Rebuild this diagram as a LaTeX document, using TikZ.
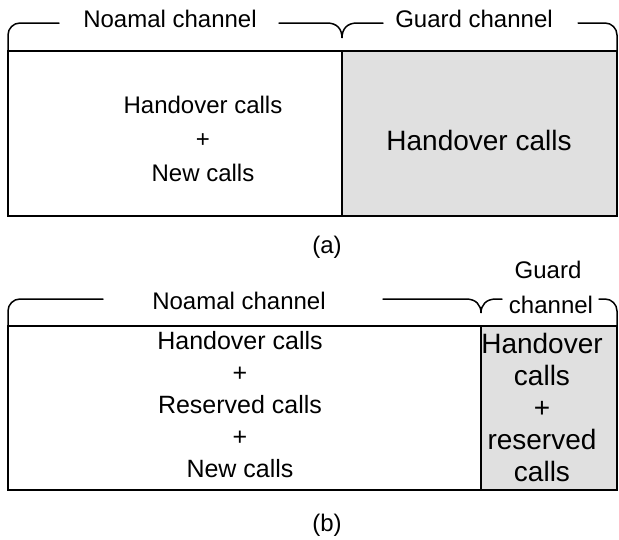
\documentclass[tikz,border=0pt]{standalone}
\usepackage{fontspec}
\setmainfont{Liberation Sans}
\usetikzlibrary{positioning}
\definecolor{gshade}{RGB}{224,224,224}
\tikzset{
  cell/.style={draw=black,line width=1.8pt},
  guard/.style={cell,fill=gshade},
  lab/.style={font=\fontsize{24}{28}\selectfont,inner sep=0pt,anchor=base},
  calls/.style={align=center,inner sep=0pt},
  brace/.style={line width=1.5pt,line cap=round}
}
\begin{document}
\begin{tikzpicture}[x=1pt,y=-1pt]
  \useasboundingbox (0,0) rectangle (619,539);
  % (a): normal channel and guard channel
  \draw[cell] (8,51) rectangle (342,216);
  \draw[guard] (342,51) rectangle (617,216);
  \node[lab] (nA) at (170,27) {Noamal channel};
  \node[lab] (gA) at (474,27) {Guard channel};
  \draw[brace,rounded corners=12pt] (8,51) -- (8,23) -- (59,23);
  \draw[brace] (279,23) -- (327,23) .. controls (337,23) and (342,29) .. (342,38)
    .. controls (342,29) and (347,23) .. (357,23) -- (383,23);
  \draw[brace,rounded corners=12pt] (578,23) -- (617,23) -- (617,51);
  \node[calls,font=\fontsize{24}{34}\selectfont] (lA) at (203,139)
    {Handover calls\\+\\New calls};
  \node[calls,font=\fontsize{28}{34}\selectfont] (rA) at (479,140) {Handover calls};
  \node[font=\fontsize{24}{28}\selectfont,inner sep=0pt] (capA) at (327,247) {(a)};
  % (b): guard channel shared with reserved calls
  \draw[cell] (8,326) rectangle (481,490);
  \draw[guard] (481,326) rectangle (617,490);
  \node[lab] (nB) at (239,309) {Noamal channel};
  \node[lab] (gB) at (548,278) {Guard};
  \node[lab] (cB) at (551,313) {channel};
  \draw[brace,rounded corners=12pt] (8,326) -- (8,299) -- (103,299);
  \draw[brace] (383,299) -- (466,299) .. controls (476,299) and (481,305) .. (481,313)
    .. controls (481,305) and (486,299) .. (496,299) -- (502,299);
  \draw[brace,rounded corners=12pt] (599,299) -- (617,299) -- (617,326);
  \node[calls,font=\fontsize{25}{32}\selectfont] (lB) at (240,405)
    {Handover calls\\+\\Reserved calls\\+\\New calls};
  \node[calls,font=\fontsize{28}{32}\selectfont] (rB) at (542,407)
    {Handover\\calls\\+\\reserved\\calls};
  \node[font=\fontsize{24}{28}\selectfont,inner sep=0pt] (capB) at (327,525) {(b)};
\end{tikzpicture}
\end{document}
